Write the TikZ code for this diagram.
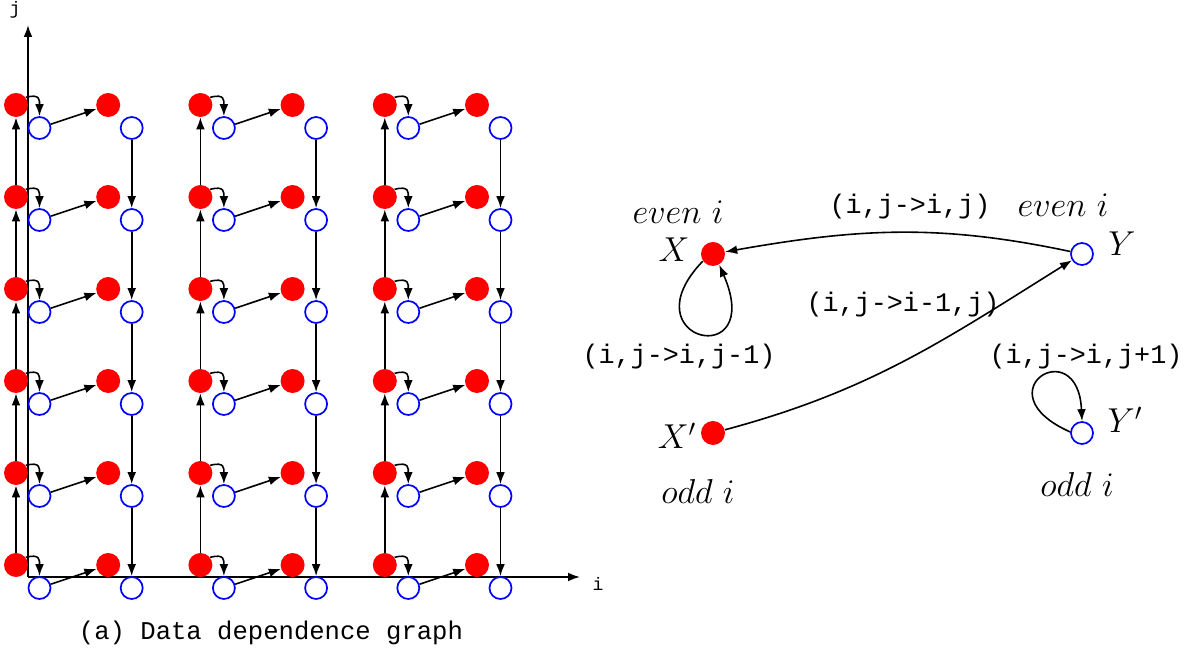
\documentclass[tikz,border=0pt]{standalone}
\usepackage{fontspec}
\newfontfamily\lmono{Liberation Mono}
\usetikzlibrary{arrows.meta}
\begin{document}
\begin{tikzpicture}[x=0.5pt,y=0.5pt,
  rnode/.style={circle,fill=red,inner sep=0pt,minimum size=12pt},
  bnode/.style={circle,draw=blue,line width=0.85pt,inner sep=0pt,minimum size=11pt},
  arr/.style={-{Latex[length=6pt,width=4.4pt]},line width=0.8pt},
  axisline/.style={-{Latex[length=6pt,width=4.4pt]},line width=0.85pt},
  lbl/.style={font=\lmono\fontsize{13.4}{15}\selectfont,inner sep=0pt},
  mlbl/.style={font=\fontsize{17}{20}\selectfont,inner sep=0pt},
  captext/.style={font=\lmono\fontsize{12.8}{15}\selectfont,inner sep=0pt},
  axlbl/.style={font=\lmono\fontsize{9}{10}\selectfont,inner sep=0pt},
]
\useasboundingbox (0,0) rectangle (1191,-651);
% axes
\coordinate (O) at (28,-577);
\coordinate (iend) at (580,-577);
\coordinate (jend) at (28,-25);
\draw[axisline] (O) -- (iend);
\draw[axisline] (O) -- (jend);
\node[axlbl] (ilab) at (598,-584) {i};
\node[axlbl] (jlab) at (15,-10) {j};
% grid nodes
\foreach \c in {0,...,5}{
  \foreach \k in {0,...,5}{
    \pgfmathsetmacro\rx{16+92.2*\c}
    \pgfmathsetmacro\ry{-(565-92*\k)}
    \node[rnode] (r\c-\k) at (\rx,\ry) {};
    \node[bnode] (b\c-\k) at (\rx+23.5,\ry-23) {};
  }
}
% grid edges
\foreach \c in {0,2,4}{
  \pgfmathtruncatemacro\d{\c+1}
  \foreach \k in {0,...,5}{
    \draw[arr] (r\c-\k.38) to[out=15,in=90,looseness=1.7] (b\c-\k.north);
    \draw[arr] (b\c-\k) -- (r\d-\k);
  }
  \foreach \k [count=\kk] in {0,...,4}{
    \draw[arr] (r\c-\k) -- (r\c-\kk);
    \draw[arr] (b\d-\kk) -- (b\d-\k);
  }
}
\node[captext] (caption) at (271,-633) {(a) Data dependence graph};
% right graph
\node[rnode] (X) at (713,-254) {};
\node[bnode] (Y) at (1082,-254) {};
\node[rnode] (Xp) at (713,-433) {};
\node[bnode] (Yp) at (1082,-433) {};
\node[mlbl] (lX) at (674,-250) {$X$};
\node[mlbl] (lY) at (1122,-244) {$Y$};
\node[mlbl] (lXp) at (677,-436) {$X'$};
\node[mlbl] (lYp) at (1125,-420) {$Y'$};
\node[mlbl] (eX) at (678,-212) {$even\ i$};
\node[mlbl] (eY) at (1063,-205) {$even\ i$};
\node[mlbl] (oX) at (698,-492) {$odd\ i$};
\node[mlbl] (oY) at (1077,-485) {$odd\ i$};
\node[lbl] (l1) at (910,-207) {(i,j->i,j)};
\node[lbl] (l2) at (903,-305) {(i,j->i-1,j)};
\node[lbl] (l3) at (679,-357) {(i,j->i,j-1)};
\node[lbl] (l4) at (1086,-357) {(i,j->i,j+1)};
\draw[arr] (Y) to[out=168,in=10] (X);
\draw[arr] (Xp) to[out=15,in=212] (Y);
\draw[arr] (X.215) .. controls +(-77,-80) and +(47,-108) .. (X.300);
\draw[arr] (Yp.175) .. controls +(-90,40) and +(-4,90) .. (Yp.north);
\end{tikzpicture}
\end{document}
